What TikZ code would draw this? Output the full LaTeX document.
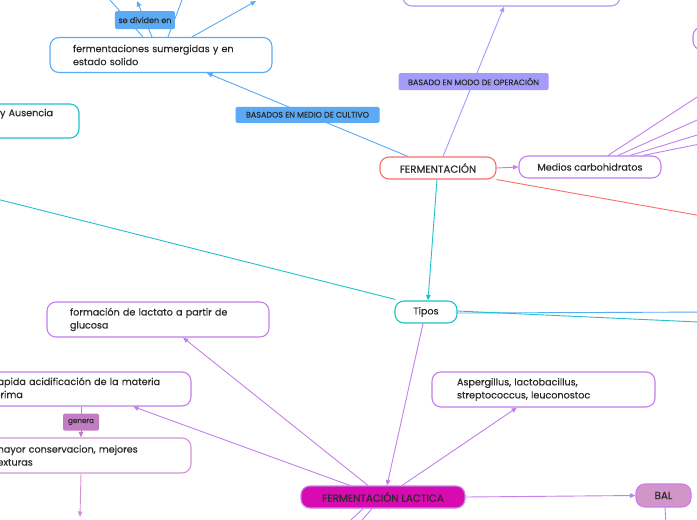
\documentclass[tikz,border=0pt]{standalone}
\usepackage{fontspec}
\setmainfont{Poppins}[FakeBold=0.35]
\usetikzlibrary{arrows.meta}
\definecolor{azul}{HTML}{5AAAF5}
\definecolor{turquesa}{HTML}{1CC3CC}
\definecolor{rojo}{HTML}{FA6E6A}
\definecolor{lavanda}{HTML}{A49CF8}
\definecolor{morado}{HTML}{C37FEE}
\definecolor{magenta}{HTML}{D70BB0}
\definecolor{malva}{HTML}{D295C8}
\definecolor{rosado}{HTML}{D592D2}
\definecolor{genera}{HTML}{C27DC2}
\definecolor{texto}{HTML}{2A2A2A}
\begin{document}
\begin{tikzpicture}[x=1pt,y=-1pt,
        caja/.style={draw,rounded corners=9pt,line width=1.1pt,fill=white,text=texto,
                     font=\fontsize{9.6}{13}\selectfont,inner sep=0pt},
        mayus/.style={caja,font=\fontsize{10.3}{13}\selectfont},
        nota/.style={caja,align=left,inner xsep=23pt,minimum height=35pt},
        etiqueta/.style={rounded corners=1.5pt,text=texto,inner sep=0pt,minimum height=17pt,
                     font=\fontsize{8}{9}\selectfont},
        flecha/.style={line width=0.9pt,-{Triangle[length=5.5pt,width=4.5pt]}},
        linea/.style={line width=0.9pt}]
    \useasboundingbox (0,0) rectangle (697,520);
    \fill[white!98!black!1] (0,0) rectangle (697,520);
    \clip (0,0) rectangle (697,520);
    % nodos
    \node[nota,draw=azul,text width=176pt,minimum width=222pt] (sumergidas) at (161,55)
        {fermentaciones sumergidas y en\\estado solido};
    \node[nota,draw=turquesa,text width=56pt,minimum width=102pt,minimum height=34pt] (ausencia) at (28,121)
        {y Ausencia\\\strut};
    \node[caja,draw=lavanda,minimum width=217pt,minimum height=36pt] (operacion) at (511.5,-12) {};
    \node[caja,draw=morado,minimum width=120pt,minimum height=23pt] (arribader) at (753,38.5) {};
    \node[mayus,draw=rojo,minimum width=116pt,minimum height=22pt] (ferm) at (438,168) {FERMENTACIÓN};
    \node[caja,draw=morado,minimum width=142pt,minimum height=22pt] (medios) at (590,167) {Medios carbohidratos};
    \node[caja,draw=turquesa,minimum width=62pt,minimum height=22pt] (tipos) at (426,312) {Tipos};
    \node[nota,draw=morado,text width=176pt,minimum width=222pt] (formacion) at (158,319.5)
        {formación de lactato a partir de\\glucosa};
    \node[nota,draw=morado,text width=174pt,minimum width=220pt,minimum height=34pt] (rapida) at (81,389)
        {rapida acidificación de la materia\\prima};
    \node[nota,draw=rosado,text width=174pt,minimum width=220pt] (mayor) at (81,455.5)
        {mayor conservacion, mejores\\texturas};
    \node[nota,draw=morado,inner xsep=25pt,text width=173pt,minimum width=223pt] (asperg) at (543.5,389.5)
        {Aspergillus, lactobacillus,\\streptococcus, leuconostoc};
    \node[mayus,draw=morado,fill=magenta,minimum width=164pt,minimum height=22pt] (lactica) at (383,497) {FERMENTACIÓN LACTICA};
    \node[mayus,draw=morado,fill=malva,minimum width=55pt,minimum height=23pt] (bal) at (663.5,495.5) {BAL};
    % extremos fuera del cuadro
    \coordinate (fueraA) at (92,-20);
    \coordinate (fueraB) at (137,1);
    \coordinate (fueraC) at (189.6,-20);
    \coordinate (fueraD) at (256,1);
    \coordinate (fueraIzq) at (-20,194.8);
    \coordinate (fueraRojo) at (720,219.2);
    \coordinate (fueraAzul) at (720,312);
    \coordinate (fueraTurq) at (720,323);
    \coordinate (fueraBal) at (667,540);
    \coordinate (fueraMayor) at (80,517);
    \coordinate (fueraL1) at (330,540);
    \coordinate (fueraL2) at (345,540);
    % conectores
    \draw[flecha,azul] ([xshift=-30pt]ferm.north) -- ([xshift=46pt]sumergidas.south)
        node[etiqueta,fill=azul,minimum width=144pt,minimum height=16pt,pos=0.5] (cultivo) {BASADOS EN MEDIO DE CULTIVO};
    \draw[flecha,lavanda] ([xshift=5pt]ferm.north) -- ([xshift=-7.5pt]operacion.south)
        node[etiqueta,fill=lavanda,minimum width=150pt,pos=0.5] (modo) {BASADO EN MODO DE OPERACIÓN};
    \draw[linea,azul] ([xshift=-18pt]sumergidas.north) -- (fueraA);
    \draw[linea,azul] ([xshift=7pt]sumergidas.north) -- (fueraC);
    \draw[flecha,azul] ([xshift=31pt]sumergidas.north) -- (fueraD);
    \draw[flecha,azul] ([xshift=-9pt]sumergidas.north) -- (fueraB)
        node[etiqueta,fill=azul,minimum width=60pt,minimum height=18pt,pos=0.47] (dividen) {se dividen en};
    \draw[flecha,morado] (ferm.east) -- (medios.west);
    \foreach \dx/\fy [count=\i] in {18/82, 28/109.8, 40/128.1, 53/139.9}
        {
        \coordinate (fueraM\i) at (720,\fy);
        \draw[linea,morado] ([xshift=\dx pt]medios.north) -- (fueraM\i);
        }
    \draw[linea,rojo] (ferm.south east) -- (fueraRojo);
    \draw[flecha,turquesa] ([xshift=-1pt]ferm.south) -- ([xshift=2pt]tipos.north);
    \draw[linea,turquesa] ([xshift=1pt,yshift=1pt]tipos.north west) -- (fueraIzq);
    \draw[linea,azul] ([yshift=-1pt]tipos.east) -- (fueraAzul);
    \draw[linea,turquesa] ([yshift=1pt]tipos.east) -- (fueraTurq);
    \draw[flecha,morado] ([xshift=-3pt]tipos.south) -- ([xshift=4pt]lactica.north);
    \draw[flecha,morado] ([xshift=19pt]lactica.north) -- ([xshift=-26.5pt]asperg.south);
    \draw[flecha,morado] ([xshift=-15pt]lactica.north) -- ([xshift=25pt]formacion.south);
    \draw[flecha,morado] ([xshift=-33pt]lactica.north) -- ([xshift=52pt]rapida.south);
    \draw[flecha,morado] (lactica.east) -- (bal.west);
    \draw[linea,morado] ([xshift=1.5pt]bal.south) -- (fueraBal);
    \draw[linea,morado] ([xshift=-20pt]lactica.south) -- (fueraL1);
    \draw[linea,morado] ([xshift=-11pt]lactica.south) -- (fueraL2);
    \draw[flecha,genera] (rapida.south) -- (mayor.north)
        node[etiqueta,fill=genera,minimum width=36pt,pos=0.5,font=\fontsize{7.2}{8}\selectfont] (lblgenera) {genera};
    \draw[flecha,rosado] (mayor.south) -- (fueraMayor);
\end{tikzpicture}
\end{document}
